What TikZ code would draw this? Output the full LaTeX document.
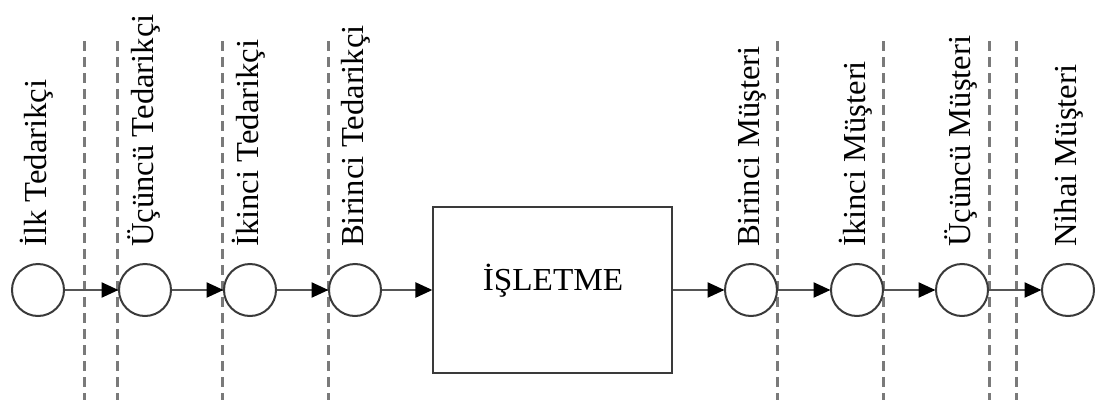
\documentclass[tikz,border=0pt]{standalone}
\usepackage{fontspec}
\setmainfont{Liberation Serif}
\usetikzlibrary{arrows.meta}
\definecolor{linegray}{HTML}{3A3A3A}
\definecolor{arrowgray}{HTML}{555555}
\definecolor{dashgray}{HTML}{7A7A7A}
\tikzset{
  stage/.style={circle,draw=linegray,line width=2pt,minimum size=52pt,inner sep=0pt},
  firm/.style={rectangle,draw=linegray,line width=2.2pt,minimum width=239pt,minimum height=166pt,inner sep=0pt},
  lbl/.style={rotate=90,anchor=base west,inner sep=0pt,font=\fontsize{32}{32}\selectfont,xscale=1.02},
  flow/.style={draw=arrowgray,line width=2.4pt,-{Triangle[length=17pt,width=15pt,fill=black,color=black]},shorten >=-0.5pt},
  sep/.style={draw=dashgray,line width=3pt,dash pattern=on 10pt off 6pt}
}
\begin{document}
\begin{tikzpicture}[x=1pt,y=-1pt]
\useasboundingbox (0,0) rectangle (1096,407);
% separators
\foreach \xx [count=\i] in {84,117,222,328,777,883,989,1016}
  \coordinate (s\i t) at (\xx,41);
\foreach \xx [count=\i] in {84,117,222,328,777,883,989,1016}
  \coordinate (s\i b) at (\xx,400);
\foreach \i in {1,...,8}
  \draw[sep] (s\i t) -- (s\i b);
% nodes
\node[stage] (c1) at (38,290) {};
\node[stage] (c2) at (145,290) {};
\node[stage] (c3) at (250,290) {};
\node[stage] (c4) at (355,290) {};
\node[firm] (f) at (552.5,290) {};
\node[anchor=base,inner sep=0pt,font=\fontsize{32}{32}\selectfont,xscale=1.04] (ft) at (553,290) {İŞLETME};
\node[stage] (d1) at (751,290) {};
\node[stage] (d2) at (857,290) {};
\node[stage] (d3) at (962,290) {};
\node[stage] (d4) at (1068,290) {};
% labels
\node[lbl] (l1) at (46,247) {İlk Tedarikçi};
\node[lbl] (l2) at (153,247) {Üçüncü Tedarikçi};
\node[lbl] (l3) at (258,247) {İkinci Tedarikçi};
\node[lbl] (l4) at (363,247) {Birinci Tedarikçi};
\node[lbl] (m1) at (759,247) {Birinci Müşteri};
\node[lbl] (m2) at (865,247) {İkinci Müşteri};
\node[lbl] (m3) at (970,247) {Üçüncü Müşteri};
\node[lbl] (m4) at (1076,247) {Nihai Müşteri};
% arrows
\draw[flow] (c1) -- (c2);
\draw[flow] (c2) -- (c3);
\draw[flow] (c3) -- (c4);
\draw[flow] (c4) -- (f);
\draw[flow] (f) -- (d1);
\draw[flow] (d1) -- (d2);
\draw[flow] (d2) -- (d3);
\draw[flow] (d3) -- (d4);
\end{tikzpicture}
\end{document}
